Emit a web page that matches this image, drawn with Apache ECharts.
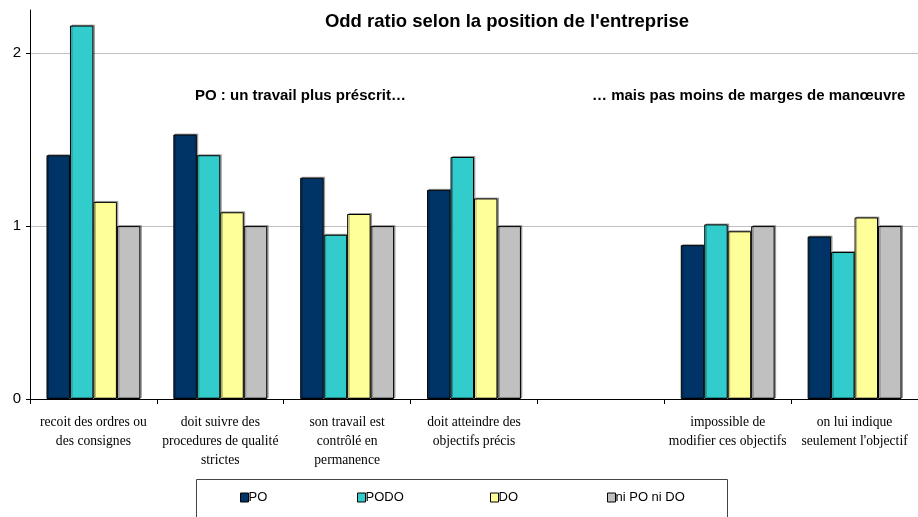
<!DOCTYPE html>
<html>
<head>
<meta charset="utf-8">
<script src="https://cdn.jsdelivr.net/npm/echarts@6/dist/echarts.min.js"></script>
<style>
  html, body { margin: 0; padding: 0; background: #fff; }
  #chart { width: 918px; height: 517px; }
</style>
</head>
<body>
<div id="chart"></div>
<script>
let categories = [
    'recoit des ordres ou\ndes consignes',
    'doit suivre des\nprocedures de qualité\nstrictes',
    'son travail est\ncontrôlé en\npermanence',
    'doit atteindre des\nobjectifs précis',
    '',
    'impossible de\nmodifier ces objectifs',
    'on lui indique\nseulement l\'objectif'
];
let po   = [1.41, 1.53, 1.28, 1.21, '-', 0.89, 0.94];
let podo = [2.16, 1.41, 0.95, 1.40, '-', 1.01, 0.85];
let dO   = [1.14, 1.08, 1.07, 1.16, '-', 0.97, 1.05];
let ni   = [1.00, 1.00, 1.00, 1.00, '-', 1.00, 1.00];
let yTicks = [0, 1, 2];

let chart = echarts.init(document.getElementById('chart'));

function bar(name, data, color) {
    return {
        name: name,
        type: 'bar',
        data: data,
        barGap: '0%',
        barCategoryGap: '26%',
        itemStyle: {
            color: color,
            borderColor: '#000',
            borderWidth: 1,
            shadowColor: 'rgba(0,0,0,0.3)',
            shadowOffsetX: 1.5,
            shadowOffsetY: -1
        }
    };
}

function legendAt(left, name) {
    return {
        left: left, top: 491, padding: 0,
        itemWidth: 8, itemHeight: 9, itemGap: 0,
        data: [{ name: name, icon: 'rect', itemStyle: { borderColor: '#000', borderWidth: 1 } }],
        textStyle: { fontFamily: 'Liberation Sans, Arial', fontSize: 13, color: '#000', padding: [0, 0, 0, -5] },
        selectedMode: false
    };
}

let option = {
    animation: false,
    title: {
        text: 'Odd ratio selon la position de l\'entreprise',
        left: 502, top: 7, textAlign: 'center',
        textStyle: { fontFamily: 'Liberation Sans, Arial', fontSize: 18.5, fontWeight: 'bold', color: '#000' }
    },
    graphic: [
        { type: 'text', left: 195, top: 88, style: { text: 'PO : un travail plus préscrit…', font: 'bold 15px "Liberation Sans", Arial', fill: '#000' } },
        { type: 'text', left: 592, top: 88, style: { text: '… mais pas moins de marges de manœuvre', font: 'bold 15px "Liberation Sans", Arial', fill: '#000' } },
        { type: 'rect', left: 194, top: 477, shape: { width: 531, height: 60 }, style: { fill: 'none', stroke: '#444', lineWidth: 1 } }
    ],
    legend: [
        legendAt(240, 'PO'),
        legendAt(357, 'PODO'),
        legendAt(490, 'DO'),
        legendAt(607, 'ni PO ni DO')
    ],
    grid: { left: 30, right: 0, top: 10, bottom: 118 },
    xAxis: {
        type: 'category',
        data: categories,
        axisLine: { lineStyle: { color: '#000' } },
        axisTick: { show: true, alignWithLabel: false, length: 5, lineStyle: { color: '#000' } },
        axisLabel: {
            interval: 0, margin: 14, lineHeight: 19,
            fontFamily: 'Liberation Serif, Times New Roman', fontSize: 13.6, color: '#000'
        }
    },
    yAxis: {
        type: 'value',
        min: 0, max: 2.25, interval: 1,
        axisLine: { show: true, lineStyle: { color: '#000' } },
        axisTick: { show: true, length: 4, lineStyle: { color: '#000' } },
        axisLabel: {
            showMaxLabel: false, margin: 9,
            fontFamily: 'Liberation Sans, Arial', fontSize: 15, color: '#000',
            formatter: function (v) { return yTicks.indexOf(v) >= 0 ? String(v) : ''; }
        },
        splitLine: { show: true, showMaxLine: false, lineStyle: { color: '#c0c0c0' } }
    },
    series: [
        bar('PO', po, '#003366'),
        bar('PODO', podo, '#33CCCC'),
        bar('DO', dO, '#FFFF99'),
        bar('ni PO ni DO', ni, '#C0C0C0')
    ]
};

chart.setOption(option);
</script>
</body>
</html>
